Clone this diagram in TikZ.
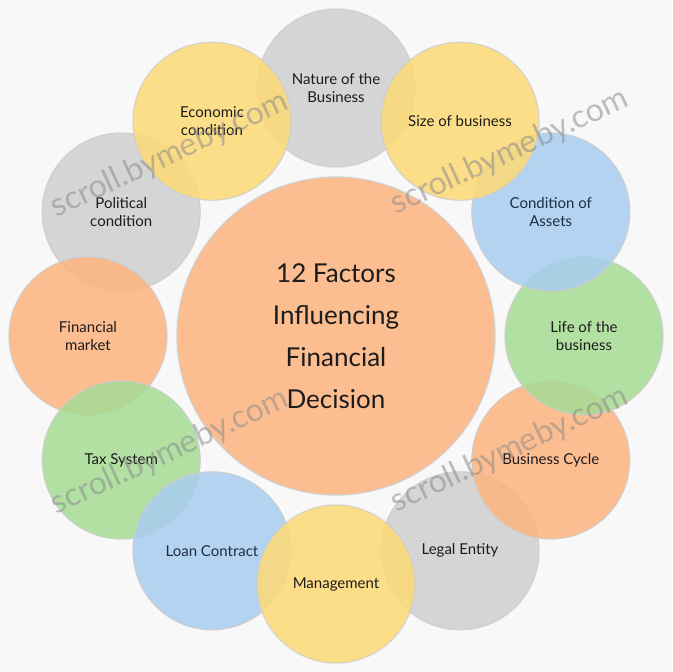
\documentclass[tikz,border=0pt]{standalone}
\usepackage{fontspec}
\setmainfont{Lato}
\usepackage{xcolor}
\usepackage{tikz}
\definecolor{bgpaper}{HTML}{F8F8F8}
\definecolor{cgray}{HTML}{CFCFCF}
\definecolor{cyellow}{HTML}{FFDA75}
\definecolor{cblue}{HTML}{A8CDF0}
\definecolor{cgreen}{HTML}{A6DC95}
\definecolor{cpeach}{HTML}{FDB47E}
\definecolor{ink}{HTML}{1C1C1C}
\definecolor{navy}{HTML}{1E2D4A}

\begin{document}
\begin{tikzpicture}[x=1pt,y=-1pt]
  \tikzset{factor/.style = {shape=circle,draw=black!20,line width=1.2pt,minimum size=158pt,inner sep=0pt,
      fill opacity=0.85,text opacity=1,draw opacity=0.8,align=center,text=ink,
      font=\fontsize{15}{18}\selectfont}}
  \tikzset{hub/.style = {shape=circle,draw=black!18,line width=1.2pt,minimum size=318pt,inner sep=0pt,
      fill=cpeach,fill opacity=0.85,text opacity=1,align=center,text=ink,
      font=\fontsize{26}{42}\selectfont}}
  \tikzset{wmark/.style = {rotate=25,text=black!45,text opacity=0.55,font=\fontsize{32}{34}\selectfont}}

  \fill[bgpaper] (0,0) rectangle (672,672);
  \useasboundingbox (0,0) rectangle (672,672);

	\node[hub] (hub) at (336,336) {12 Factors\\Influencing\\Financial\\Decision};

    \foreach \name/\ang/\col/\txt in {nature/90/cgray/{Nature of the\\Business},
        polit/150/cgray/{Political\\condition},
        econ/120/cyellow/{Economic\\condition},
        finmkt/180/cpeach/{Financial\\market},
        tax/210/cgreen/{Tax System},
        loan/240/cblue/{\color{navy}Loan Contract},
        legal/300/cgray/{Legal Entity},
        mgmt/270/cyellow/{Management},
        cycle/330/cpeach/{Business Cycle},
        life/0/cgreen/{Life of the\\business},
        assets/30/cblue/{\color{navy}Condition of\\\color{navy}Assets},
        size/60/cyellow/{Size of business}}
    \node[factor,fill=\col] (\name) at ({336+248*cos(\ang)},{336-248*sin(\ang)}) {\txt};

	\node[wmark] (wm1) at (170,155) {scroll.bymeby.com};
	\node[wmark] (wm2) at (510,152) {scroll.bymeby.com};
	\node[wmark] (wm3) at (170,452) {scroll.bymeby.com};
	\node[wmark] (wm4) at (510,450) {scroll.bymeby.com};

\end{tikzpicture}
\end{document}
